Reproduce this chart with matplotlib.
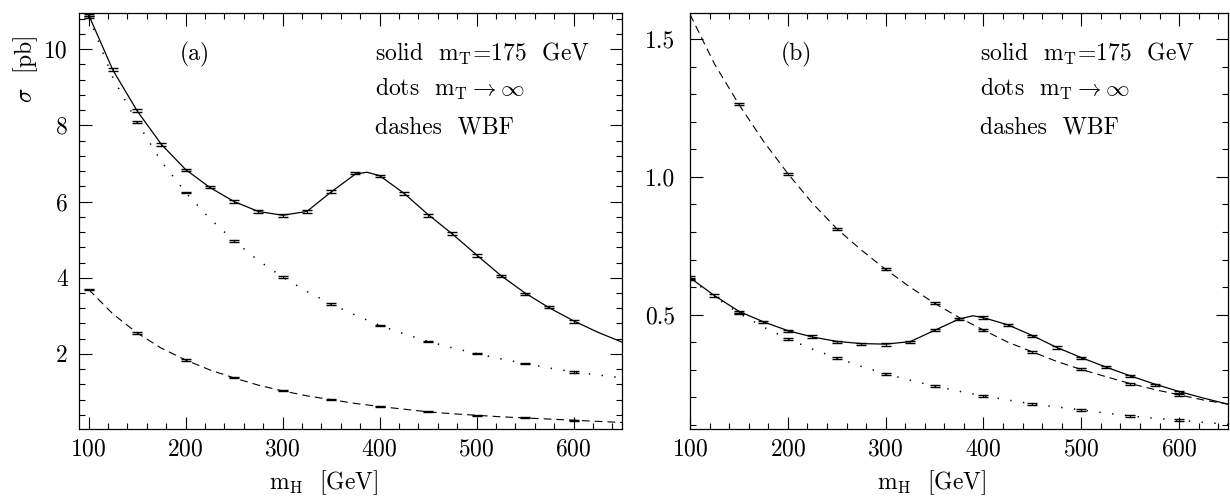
import numpy as np
import matplotlib
matplotlib.use("Agg")
import matplotlib.pyplot as plt
from matplotlib.ticker import MultipleLocator, FormatStrFormatter

plt.rcParams['font.family'] = 'serif'
plt.rcParams['font.serif'] = ['cmr10', 'DejaVu Serif']
plt.rcParams['mathtext.fontset'] = 'cm'
plt.rcParams['axes.formatter.use_mathtext'] = True
plt.rcParams['axes.unicode_minus'] = False

# ---- data ----
# curve masses (GeV)
m_line = [100, 125, 150, 175, 200, 225, 250, 275, 300, 325, 350, 375, 400,
          425, 450, 475, 500, 525, 550, 575, 600, 625, 650]
m_pts25 = [100, 125, 150, 175, 200, 225, 250, 275, 300, 325, 350, 375, 400,
           425, 450, 475, 500, 525, 550, 575, 600]
m_pts50 = [100, 150, 200, 250, 300, 350, 400, 450, 500, 550, 600]

# panel (a)
a_solid_m = [100, 125, 150, 175, 200, 225, 250, 275, 300, 325, 350, 375, 387,
             400, 425, 450, 475, 500, 525, 550, 575, 600, 625, 650]
a_solid_line = [10.9, 9.45, 8.38, 7.5, 6.84, 6.37, 6.0, 5.74, 5.64, 5.74, 6.25,
                6.72, 6.77, 6.68, 6.22, 5.66, 5.15, 4.6, 4.06, 3.6, 3.21, 2.87,
                2.57, 2.31]
a_solid_pts = [10.9, 9.47, 8.39, 7.49, 6.83, 6.38, 6.00, 5.74, 5.64, 5.74, 6.27,
               6.75, 6.67, 6.22, 5.64, 5.16, 4.58, 4.05, 3.57, 3.23, 2.86]
a_dots_line = [10.85, 9.25, 8.08, 7.05, 6.24, 5.55, 4.97, 4.45, 4.02, 3.64, 3.31,
               3.02, 2.75, 2.53, 2.33, 2.16, 2.01, 1.87, 1.75, 1.63, 1.53, 1.45,
               1.37]
a_dots_pts = [10.85, 8.09, 6.24, 4.97, 4.02, 3.31, 2.75, 2.33, 2.01, 1.75, 1.53]
a_dash_line = [3.69, 3.05, 2.55, 2.15, 1.84, 1.58, 1.37, 1.18, 1.03, 0.90, 0.80,
               0.70, 0.62, 0.55, 0.48, 0.43, 0.39, 0.35, 0.32, 0.29, 0.26, 0.23,
               0.20]
a_dash_pts = [3.69, 2.55, 1.84, 1.37, 1.03, 0.80, 0.62, 0.48, 0.39, 0.32, 0.26]

# panel (b)
b_solid_m = [100, 125, 150, 175, 200, 225, 250, 275, 300, 325, 350, 375, 389,
             400, 425, 450, 475, 500, 525, 550, 575, 600, 625, 650]
b_solid_line = [0.634, 0.569, 0.512, 0.474, 0.442, 0.419, 0.403, 0.395, 0.393,
                0.402, 0.443, 0.484, 0.496, 0.489, 0.463, 0.424, 0.381, 0.344,
                0.310, 0.278, 0.248, 0.221, 0.197, 0.175]
b_solid_pts = [0.634, 0.569, 0.510, 0.474, 0.441, 0.420, 0.401, 0.394, 0.392,
               0.401, 0.445, 0.485, 0.489, 0.463, 0.423, 0.380, 0.343, 0.310,
               0.278, 0.245, 0.220]
b_dots_line = [0.63, 0.565, 0.505, 0.455, 0.412, 0.375, 0.343, 0.312, 0.285,
               0.262, 0.241, 0.222, 0.205, 0.19, 0.176, 0.165, 0.154, 0.143,
               0.132, 0.124, 0.117, 0.109, 0.102]
b_dots_pts = [0.63, 0.505, 0.412, 0.343, 0.285, 0.241, 0.205, 0.176, 0.154,
              0.132, 0.117]
b_dash_line = [1.59, 1.41, 1.263, 1.13, 1.012, 0.905, 0.812, 0.735, 0.664, 0.6,
               0.541, 0.49, 0.444, 0.40, 0.365, 0.33, 0.301, 0.275, 0.25, 0.228,
               0.209, 0.19, 0.175]
b_dash_m_pts = [150, 200, 250, 300, 350, 400, 450, 500, 550, 600]
b_dash_pts = [1.263, 1.012, 0.812, 0.664, 0.541, 0.444, 0.365, 0.301, 0.250, 0.209]

err_a = 0.035
err_b = 0.0045

fig = plt.figure(figsize=(12.3, 4.98), dpi=100)
ax_a = fig.add_axes([0.0642, 0.1386, 0.4415, 0.8353])
ax_b = fig.add_axes([0.561, 0.1386, 0.4374, 0.8353])

solid_kw = dict(color='k', lw=0.9)
dash_kw = dict(color='k', lw=0.8, linestyle=(0, (7, 4.5)))
dots_kw = dict(color='k', lw=1.1, linestyle=(0, (0.9, 7.5)))
eb_kw = dict(fmt='none', ecolor='k', capsize=3.4, elinewidth=0.8, capthick=1.0)
FS = 17


def style(ax, xlim, ylim, ymaj, ymin, fmt, ypad):
    ax.set_xlim(*xlim)
    ax.set_ylim(*ylim)
    ax.xaxis.set_major_locator(MultipleLocator(100))
    ax.xaxis.set_minor_locator(MultipleLocator(20))
    ax.yaxis.set_major_locator(MultipleLocator(ymaj))
    ax.yaxis.set_minor_locator(MultipleLocator(ymin))
    ax.yaxis.set_major_formatter(FormatStrFormatter(fmt))
    ax.tick_params(which='both', direction='in', top=True, right=True,
                   width=0.8, labelsize=FS)
    ax.tick_params(which='major', length=9)
    ax.tick_params(which='minor', length=4.5)
    ax.tick_params(axis='x', pad=7)
    ax.tick_params(axis='y', pad=ypad)
    for s in ax.spines.values():
        s.set_linewidth(0.9)
    ax.set_xlabel(r'm$_{\rm H}$  [GeV]', fontsize=FS)
    ax.xaxis.set_label_coords(0.45, -0.095)


# panel (a)
ax_a.plot(a_solid_m, a_solid_line, **solid_kw)
ax_a.plot(m_line, a_dots_line, **dots_kw)
ax_a.plot(m_line, a_dash_line, **dash_kw)
ax_a.errorbar(m_pts25, a_solid_pts, yerr=err_a, **eb_kw)
ax_a.errorbar(m_pts50, a_dots_pts, yerr=err_a * 0.6, **eb_kw)
ax_a.errorbar(m_pts50, a_dash_pts, yerr=err_a * 0.4, **eb_kw)
style(ax_a, (90, 650), (0.03, 10.95), 2, 0.4, '%d', 8)
ax_a.set_ylabel(r'$\sigma$  [pb]', fontsize=FS)
ax_a.yaxis.set_label_coords(-0.072, 0.865)

# panel (b)
ax_b.plot(b_solid_m, b_solid_line, **solid_kw)
ax_b.plot(m_line, b_dots_line, **dots_kw)
ax_b.plot(m_line, b_dash_line, **dash_kw)
ax_b.errorbar(m_pts25, b_solid_pts, yerr=err_b, **eb_kw)
ax_b.errorbar(m_pts50, b_dots_pts, yerr=err_b * 0.6, **eb_kw)
ax_b.errorbar(b_dash_m_pts, b_dash_pts, yerr=err_b * 0.8, **eb_kw)
style(ax_b, (100, 650), (0.085, 1.595), 0.5, 0.1, '%.1f', 11)

labels = [r'solid  m$_{\rm T}$=175  GeV', r'dots  m$_{\rm T}$$\rightarrow\infty$',
          'dashes  WBF']
for ax, tag, xt, xl in [(ax_a, '(a)', 0.214, 0.545), (ax_b, '(b)', 0.197, 0.539)]:
    ax.text(xt, 0.901, tag, transform=ax.transAxes, fontsize=FS,
            ha='center', va='center')
    for lab, yy in zip(labels, [0.901, 0.817, 0.726]):
        ax.text(xl, yy, lab, transform=ax.transAxes, fontsize=FS,
                ha='left', va='center')

fig.savefig('out.png', dpi=100)
